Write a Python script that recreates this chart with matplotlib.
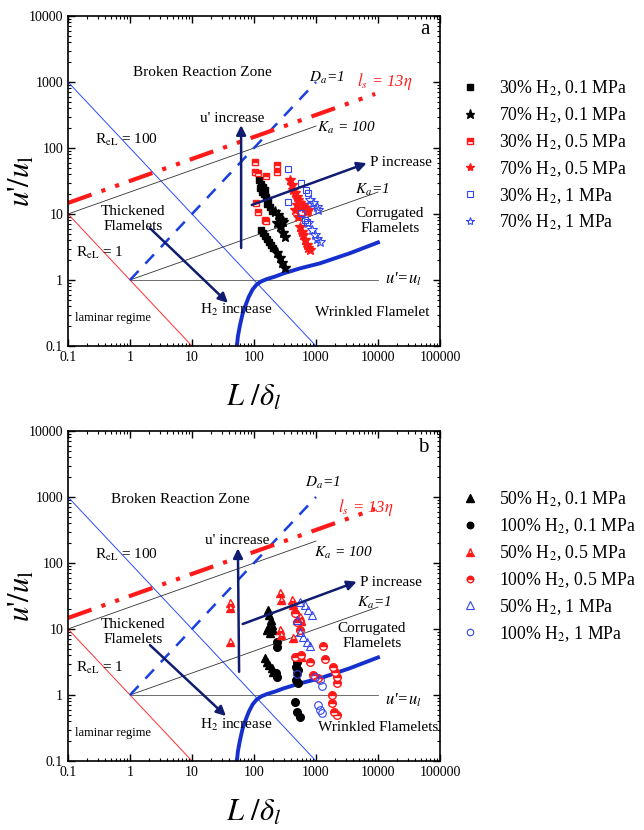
import matplotlib
matplotlib.use('Agg')
import matplotlib.pyplot as plt
from matplotlib.ticker import FixedLocator, FuncFormatter, NullFormatter

plt.rcParams['font.family'] = ['Liberation Serif', 'DejaVu Serif']
plt.rcParams['mathtext.fontset'] = 'stix'

# regime diagram lines (same for both panels)
re100_x, re100_y = [0.1, 1000], [1000, 0.1]
re1_x, re1_y = [0.1, 10], [10, 0.1]
ka100_x, ka100_y = [0.1, 1000], [10, 215]
ka1_x, ka1_y = [1, 10000], [1, 21.5]
da1_x, da1_y = [1, 1000], [1, 1000]
ul_x, ul_y = [1, 10000], [1, 1]
ls_x, ls_y = [0.1, 9000], [14.7, 660]
kol_x = [53, 55, 59, 65, 72, 82, 95, 110, 130, 160, 220, 300, 552, 1160, 3500, 10700]
kol_y = [0.1, 0.14, 0.2, 0.3, 0.4, 0.55, 0.72, 0.85, 0.95, 1.03, 1.13, 1.26, 1.5, 1.79, 2.54, 3.8]

# panel a data
sq01_x = [120, 130, 140, 150, 145, 156, 168, 162, 181, 195, 135, 125, 130, 140, 150, 162, 174, 187, 202]
sq01_y = [32.7, 28.5, 25.6, 23.1, 20.1, 18.1, 16.3, 14.2, 12.8, 11.1, 21.5, 24.8, 5.7, 5.2, 4.6, 4.2, 3.8, 3.4, 3.05]
st01_x = [218, 244, 283, 294, 235, 262, 294, 316, 235, 262, 283, 316]
st01_y = [10.7, 9.7, 8.1, 7.6, 7.3, 6.4, 5.2, 4.5, 2.6, 2.15, 1.8, 1.5]
sq05_x = [104, 104, 116, 158, 232, 236, 108, 116, 150, 158]
sq05_y = [61, 43, 42, 37, 55, 43, 14.5, 10.8, 8.1, 7.8]
st05_x = [381, 410, 426, 459, 494, 513, 552, 594, 617, 665, 716, 743, 494, 459, 513, 552, 594, 617, 665, 716, 743, 800]
st05_y = [32.7, 27.5, 23.1, 20.8, 18.1, 16.3, 14.7, 12.8, 13.7, 12.3, 10.7, 11.5, 13.7, 11.5, 9.0, 6.4, 5.3, 4.8, 4.0, 3.4, 3.05, 2.85]
sq1_x = [353, 573, 690, 743, 353, 573, 665, 716]
sq1_y = [48, 29.5, 23.1, 20.8, 15.2, 10.4, 8.1, 7.6]
st1_x = [800, 896, 1040, 1075, 743, 860, 963, 1040, 1160]
st1_y = [16.3, 14.7, 12.8, 11.5, 7.3, 5.7, 4.8, 4.2, 3.8]

# panel b data
tr01_x = [168, 175, 188, 195, 168, 181, 162, 202, 150, 162, 175, 195, 202]
tr01_y = [19.4, 16.3, 13.7, 11.5, 10.4, 8.7, 9.7, 9.7, 3.6, 3.2, 2.85, 2.6, 2.2]
ci01_x = [235, 235, 226, 235, 494, 476, 499, 476, 513, 459, 499, 552, 494, 513]
ci01_y = [6.4, 5.3, 2.15, 1.9, 3.8, 2.65, 2.15, 1.7, 1.5, 0.78, 0.55, 0.46, 3.2, 2.4]
tr05_x = [41, 41, 41, 262, 270, 405, 420, 552, 580, 262, 270, 428, 580]
tr05_y = [24.8, 20.8, 6.4, 35.6, 27.5, 27.8, 23.4, 15.4, 13.0, 9.7, 8.1, 7.3, 3.8]
ci05_x = [1297, 1397, 1880, 2024, 2182, 2182, 896, 1075, 1811, 1791, 1950, 2182, 494, 459, 552, 459, 580, 800]
ci05_y = [5.5, 3.5, 2.65, 2.2, 1.9, 1.5, 2.0, 1.8, 1.0, 0.76, 0.55, 0.5, 12.8, 17.5, 9.7, 3.8, 4.0, 3.2]
tr1_x = [552, 665, 743, 860, 494, 552, 617, 716, 800]
tr1_y = [25.6, 23.1, 19.4, 16.3, 13.7, 9.0, 7.6, 6.4, 5.5]
ci1_x = [494, 963, 1160, 1240, 1075, 1160, 1240]
ci1_y = [2.1, 1.9, 1.7, 1.37, 0.7, 0.59, 0.53]

x_decades = [0.1, 1, 10, 100, 1000, 10000, 100000]
y_decades = [0.1, 1, 10, 100, 1000, 10000]

RED = '#ff1a1a'
BLUE = '#3347ee'
NAVY = '#101c70'
THICK_BLUE = '#1530cc'

series_a = [
    (sq01_x, sq01_y, dict(marker='s', color='black', ms=5), '30% H$_2$, 0.1 MPa'),
    (st01_x, st01_y, dict(marker='*', color='black', ms=8), '70% H$_2$, 0.1 MPa'),
    (sq05_x, sq05_y, dict(marker='s', color=RED, mfc=RED, mfcalt='white', fillstyle='top', ms=5), '30% H$_2$, 0.5 MPa'),
    (st05_x, st05_y, dict(marker='*', color=RED, ms=7), '70% H$_2$, 0.5 MPa'),
    (sq1_x, sq1_y, dict(marker='s', color=BLUE, mfc='none', ms=5, mew=0.8), '30% H$_2$, 1 MPa'),
    (st1_x, st1_y, dict(marker='*', color=BLUE, mfc='none', ms=7, mew=0.8), '70% H$_2$, 1 MPa'),
]
series_b = [
    (tr01_x, tr01_y, dict(marker='^', color='black', ms=6), '50% H$_2$, 0.1 MPa'),
    (ci01_x, ci01_y, dict(marker='o', color='black', ms=5.5), '100% H$_2$, 0.1 MPa'),
    (tr05_x, tr05_y, dict(marker='^', color=RED, mfc=RED, mfcalt='white', fillstyle='bottom', ms=6), '50% H$_2$, 0.5 MPa'),
    (ci05_x, ci05_y, dict(marker='o', color=RED, mfc=RED, mfcalt='white', fillstyle='top', ms=5.5), '100% H$_2$, 0.5 MPa'),
    (tr1_x, tr1_y, dict(marker='^', color=BLUE, mfc='none', ms=6, mew=0.8), '50% H$_2$, 1 MPa'),
    (ci1_x, ci1_y, dict(marker='o', color=BLUE, mfc='none', ms=5.5, mew=0.8), '100% H$_2$, 1 MPa'),
]

# arrows: (start, tip)
arrows_a = [((62, 3.06), (62, 222)), ((92, 13.7), (6570, 59)), ((2.1, 6.1), (38, 0.45))]
arrows_b = [((57.5, 2.25), (55, 167)), ((65.7, 11.9), (4530, 52)), ((2.1, 5.7), (35.3, 0.48))]

# texts given as (x pixel, y pixel from panel top, text, kwargs)
texts_a = [
    (202, 57, 'Broken Reaction Zone', {}),
    (327, 62, r'$D_a$=1', dict(style='italic')),
    (385, 66, r'$l_s$ = 13$\eta$', dict(style='italic', color=RED, fontsize=12)),
    (126, 124, r'R$_{\mathrm{eL}}$ = 100', {}),
    (346, 112, r'$K_a$ = 100', dict(style='italic')),
    (232, 103, "u' increase", {}),
    (370, 147, 'P increase', dict(ha='left')),
    (372, 174, r'$K_a$=1', dict(style='italic')),
    (133, 203, 'Thickened\nFlamelets', dict(linespacing=1.25)),
    (390, 205, 'Corrugated\nFlamelets', dict(linespacing=1.25)),
    (100, 237, r'R$_{\mathrm{eL}}$ = 1', {}),
    (403, 263, "$u$'=$u_l$", dict(fontsize=12, style='italic')),
    (236, 294, r'H$_2$ increase', {}),
    (372, 296, 'Wrinkled Flamelet', {}),
    (113, 302, 'laminar regime', dict(fontsize=9)),
    (425, 14, 'a', dict(fontsize=15)),
]
texts_b = [
    (180, 68, 'Broken Reaction Zone', {}),
    (323, 52, r'$D_a$=1', dict(style='italic')),
    (366, 77, r'$l_s$ = 13$\eta$', dict(style='italic', color=RED, fontsize=12)),
    (126, 124, r'R$_{\mathrm{eL}}$ = 100', {}),
    (343, 122, r'$K_a$ = 100', dict(style='italic')),
    (237, 109, "u' increase", {}),
    (360, 151, 'P increase', dict(ha='left')),
    (374, 172, r'$K_a$=1', dict(style='italic')),
    (133, 201, 'Thickened\nFlamelets', dict(linespacing=1.25)),
    (372, 205, 'Corrugated\nFlamelets', dict(linespacing=1.25)),
    (100, 237, r'R$_{\mathrm{eL}}$ = 1', {}),
    (403, 269, "$u$'=$u_l$", dict(fontsize=12, style='italic')),
    (236, 294, r'H$_2$ increase', {}),
    (378, 296, 'Wrinkled Flamelets', {}),
    (113, 302, 'laminar regime', dict(fontsize=9)),
    (423, 16, 'b', dict(fontsize=15)),
]

AX_L, AX_W, AX_H = 68, 372, 330


def minor_ticks(decades):
    return [d * k for d in decades[:-1] for k in range(2, 10)]


def draw_panel(ax, series, arrows, texts, legend_top):
    ax.set_xscale('log')
    ax.set_yscale('log')
    ax.set_xlim(0.1, 100000)
    ax.set_ylim(0.1, 10000)

    ax.plot(re100_x, re100_y, color='#2a4cff', lw=0.7)
    ax.plot(re1_x, re1_y, color='#ff3030', lw=0.7)
    ax.plot(ka100_x, ka100_y, color='#333333', lw=0.6)
    ax.plot(ka1_x, ka1_y, color='#333333', lw=0.6)
    ax.plot(ul_x, ul_y, color='#555555', lw=0.6)
    ax.plot(da1_x, da1_y, color='#1a3fe0', lw=1.8, dashes=(5, 4))
    ax.plot(ls_x, ls_y, color=RED, lw=3, dashes=(6, 2.5, 1, 2.5, 1, 2.5))
    ax.plot(kol_x, kol_y, color=THICK_BLUE, lw=2.8, solid_capstyle='butt')

    handles = []
    for xs, ys, style, label in series:
        h, = ax.plot(xs, ys, ls='none', label=label, **style)
        handles.append(h)

    for start, tip in arrows:
        ax.annotate('', xy=tip, xytext=start,
                    arrowprops=dict(arrowstyle='-|>', color=NAVY, lw=1.8,
                                    mutation_scale=14, shrinkA=0, shrinkB=0))

    for px, py, s, kw in texts:
        opts = dict(fontsize=11, ha='center', va='center')
        opts.update(kw)
        ax.text((px - AX_L) / AX_W, 1 - py / AX_H, s, transform=ax.transAxes, **opts)

    ax.xaxis.set_major_locator(FixedLocator(x_decades))
    ax.yaxis.set_major_locator(FixedLocator(y_decades))
    ax.xaxis.set_minor_locator(FixedLocator(minor_ticks(x_decades)))
    ax.yaxis.set_minor_locator(FixedLocator(minor_ticks(y_decades)))
    fmt = FuncFormatter(lambda v, _: f'{v:g}')
    ax.xaxis.set_major_formatter(fmt)
    ax.yaxis.set_major_formatter(fmt)
    ax.xaxis.set_minor_formatter(NullFormatter())
    ax.yaxis.set_minor_formatter(NullFormatter())
    ax.tick_params(which='both', direction='in', top=True, right=True, labelsize=10)
    ax.tick_params(which='major', length=5, width=1)
    ax.tick_params(which='minor', length=2.5, width=0.8)
    for sp in ax.spines.values():
        sp.set_linewidth(1.2)

    ax.set_xlabel(r'$L\ /\delta_l$', fontsize=22, labelpad=14)
    ax.set_ylabel("$u$'$/u_\\mathrm{l}$", fontsize=22)
    ax.yaxis.set_label_coords(-0.085, 0.5)

    ax.legend(handles=handles, loc='upper left', bbox_to_anchor=(1.058, legend_top),
              frameon=False, fontsize=12.8, handlelength=1, handletextpad=1.1,
              borderaxespad=0, borderpad=0, labelspacing=0.4, numpoints=1,
              markerscale=0.85)


fig = plt.figure(figsize=(6.44, 8.30), dpi=100)
ax_a = fig.add_axes([68 / 644, (830 - 346) / 830, 372 / 644, 330 / 830])
ax_b = fig.add_axes([68 / 644, (830 - 761) / 830, 372 / 644, 330 / 830])

draw_panel(ax_a, series_a, arrows_a, texts_a, 0.812)
draw_panel(ax_b, series_b, arrows_b, texts_b, 0.824)

fig.savefig('out.png', dpi=100)
